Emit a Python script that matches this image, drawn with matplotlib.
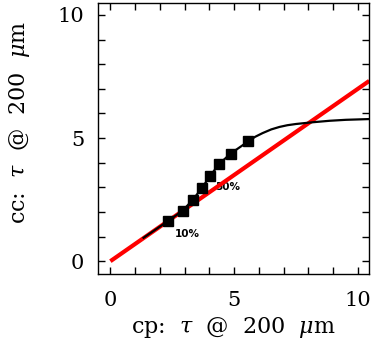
import matplotlib
matplotlib.use("Agg")
import matplotlib.pyplot as plt
import numpy as np

# data
curve_x = [1.34, 1.85, 2.34, 2.92, 3.33, 3.69, 4.03, 4.39, 4.86, 5.58, 5.85, 6.15, 6.50, 6.83, 7.15, 7.50, 8.17, 8.85, 9.52, 10.46]
curve_y = [0.95, 1.30, 1.64, 2.05, 2.49, 2.96, 3.46, 3.94, 4.37, 4.87, 5.05, 5.20, 5.35, 5.45, 5.52, 5.57, 5.64, 5.70, 5.74, 5.77]
marker_x = [2.34, 2.92, 3.33, 3.69, 4.03, 4.39, 4.86, 5.58]
marker_y = [1.64, 2.05, 2.49, 2.96, 3.46, 3.94, 4.37, 4.87]
line_x = [0, 10.46]
line_y = [0, 7.32]
annot_text = ["10%", "50%"]
annot_x = [2.59, 4.25]
annot_y = [1.12, 3.02]

plt.rcParams['font.family'] = ['DejaVu Serif']
plt.rcParams['mathtext.fontset'] = 'dejavuserif'

fig = plt.figure(figsize=(3.74, 3.43), dpi=100)
ax = fig.add_axes([98/374, 1 - 274/343, (369-98)/374, (274-3.3)/343])

for t, x, y in zip(annot_text, annot_x, annot_y):
    ax.text(x, y, t, fontsize=7.5, fontweight='bold', family='DejaVu Sans',
            va='center', ha='left', color='black', zorder=1)
ax.plot(line_x, line_y, color='red', lw=3, zorder=2, solid_capstyle='butt')
ax.plot(curve_x, curve_y, color='black', lw=1.6, zorder=3)
ax.plot(marker_x, marker_y, 's', color='black', ms=7, zorder=4)

ax.set_xlim(-0.5, 10.45)
ax.set_ylim(-0.52, 10.47)
ax.set_xticks([0, 5, 10])
ax.set_yticks([0, 5, 10])
ax.set_xticks(np.arange(0, 11, 1), minor=True)
ax.set_yticks(np.arange(0, 11, 1), minor=True)
ax.tick_params(which='both', direction='in', top=True, right=True, length=5, width=1)
ax.tick_params(which='major', labelsize=15)
ax.tick_params(axis='x', pad=12)
ax.tick_params(axis='y', pad=10)
for s in ax.spines.values():
    s.set_linewidth(1)

ax.set_xlabel(r'cp:  $\tau$  @  200  $\mu$m', fontsize=16, labelpad=4)
ax.set_ylabel(r'cc:  $\tau$  @  200  $\mu$m', fontsize=16)
ax.yaxis.set_label_coords(-0.245, 0.56)

fig.savefig('out.png', dpi=100)
